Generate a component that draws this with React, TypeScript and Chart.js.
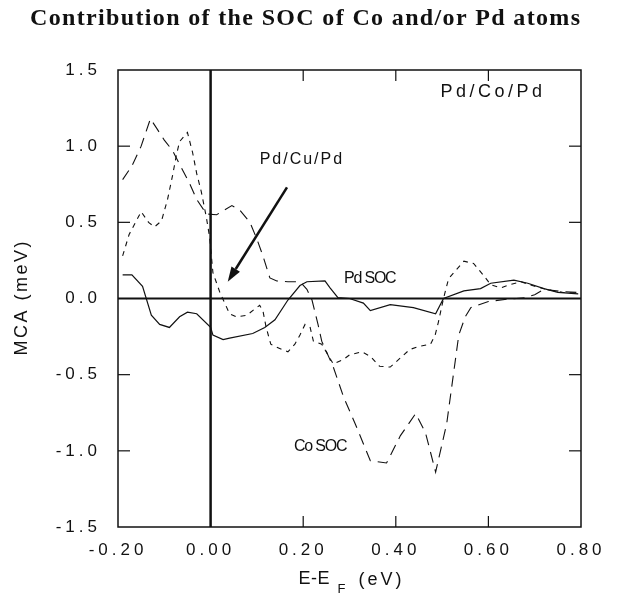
import React, { useEffect, useRef } from "react";
import { Chart, registerables } from "chart.js";

Chart.register(...registerables);

// ---------- data ----------
const chartTitle = "Contribution of the SOC of Co and/or Pd atoms";
const xAxisTitleMain = "E-E";
const xAxisTitleSub = "F";
const xAxisTitleUnit = "(eV)";
const yAxisTitle = "MCA (meV)";
const xMin = -0.2;
const xMax = 0.8;
const xStep = 0.2;
const yMin = -1.5;
const yMax = 1.5;
const yStep = 0.5;

// solid curve
const solidX = [-0.19, -0.17, -0.147, -0.128, -0.11, -0.089, -0.067, -0.05, -0.03, 0.0, 0.005, 0.027, 0.041, 0.091, 0.117, 0.139, 0.167, 0.193, 0.208, 0.247, 0.258, 0.275, 0.3, 0.33, 0.345, 0.388, 0.438, 0.486, 0.503, 0.547, 0.583, 0.605, 0.655, 0.685, 0.72, 0.75, 0.794];
const solidY = [0.155, 0.155, 0.08, -0.11, -0.17, -0.19, -0.12, -0.09, -0.1, -0.19, -0.24, -0.27, -0.26, -0.23, -0.19, -0.14, -0.01, 0.085, 0.11, 0.115, 0.07, 0.006, 0.0, -0.03, -0.08, -0.04, -0.06, -0.1, 0.0, 0.05, 0.065, 0.1, 0.12, 0.1, 0.065, 0.04, 0.03];

// long-dashed curve (Co SOC)
const longX = [-0.19, -0.17, -0.15, -0.13, -0.117, -0.1, -0.082, -0.06, -0.046, -0.03, -0.009, 0.013, 0.046, 0.063, 0.085, 0.1, 0.113, 0.128, 0.143, 0.167, 0.193, 0.208, 0.219, 0.232, 0.24, 0.265, 0.287, 0.312, 0.345, 0.38, 0.41, 0.443, 0.464, 0.486, 0.51, 0.536, 0.55, 0.562, 0.6, 0.64, 0.68, 0.7, 0.72, 0.76, 0.79];
const longY = [0.78, 0.87, 1.0, 1.18, 1.12, 1.04, 0.97, 0.84, 0.76, 0.65, 0.555, 0.55, 0.61, 0.58, 0.5, 0.39, 0.28, 0.135, 0.115, 0.11, 0.11, 0.06, -0.01, -0.17, -0.28, -0.45, -0.645, -0.82, -1.065, -1.08, -0.9, -0.755, -0.88, -1.14, -0.82, -0.24, -0.12, -0.06, -0.02, -0.005, 0.005, 0.025, 0.06, 0.045, 0.04];

// short-dashed curve
const shortX = [-0.19, -0.176, -0.15, -0.134, -0.121, -0.106, -0.093, -0.082, -0.074, -0.067, -0.05, -0.039, -0.03, -0.02, -0.009, -0.002, 0.005, 0.02, 0.041, 0.056, 0.078, 0.095, 0.106, 0.113, 0.12, 0.13, 0.143, 0.167, 0.182, 0.193, 0.204, 0.215, 0.222, 0.24, 0.265, 0.287, 0.3, 0.327, 0.345, 0.365, 0.388, 0.41, 0.43, 0.45, 0.475, 0.485, 0.492, 0.503, 0.514, 0.547, 0.568, 0.59, 0.605, 0.627, 0.645, 0.67, 0.7, 0.725, 0.76, 0.79];
const shortY = [0.28, 0.42, 0.57, 0.5, 0.47, 0.51, 0.65, 0.81, 0.94, 1.03, 1.09, 0.96, 0.82, 0.7, 0.53, 0.4, 0.17, 0.04, -0.1, -0.12, -0.11, -0.07, -0.045, -0.08, -0.19, -0.3, -0.32, -0.35, -0.3, -0.24, -0.17, -0.19, -0.28, -0.3, -0.43, -0.4, -0.37, -0.35, -0.38, -0.445, -0.45, -0.39, -0.335, -0.315, -0.3, -0.24, -0.155, 0.0, 0.13, 0.245, 0.23, 0.15, 0.09, 0.07, 0.09, 0.11, 0.08, 0.06, 0.04, 0.035];

const labelPdCoPd = "Pd/Co/Pd";
const labelPdCuPd = "Pd/Cu/Pd";
const labelPdSOC = "Pd SOC";
const labelCoSOC = "Co SOC";

const zip = (xs: number[], ys: number[]) => xs.map((x, i) => ({ x, y: ys[i] }));

const INK = "#111";
const SANS = '"Liberation Sans", Arial, sans-serif';
const SERIF = '"Liberation Serif", "Times New Roman", serif';

function drawText(ctx: CanvasRenderingContext2D, text: string, x: number, y: number, font: string, ls: number, align: CanvasTextAlign = "center", baseline: CanvasTextBaseline = "middle") {
  ctx.save();
  ctx.font = font;
  (ctx as any).letterSpacing = ls + "px";
  ctx.textAlign = "left";
  ctx.textBaseline = baseline;
  ctx.fillStyle = INK;
  const w = ctx.measureText(text).width - ls;
  let sx = x;
  if (align === "center") sx = x - w / 2;
  else if (align === "right") sx = x - w;
  ctx.fillText(text, sx, y);
  ctx.restore();
}

const framePlugin = {
  id: "frame",
  beforeDraw(chart: any) {
    chart.ctx.letterSpacing = "4px";
  },
  beforeDatasetsDraw(chart: any) {
    const { ctx, chartArea: a, scales } = chart;
    const xs = scales.x;
    const ys = scales.y;
    ctx.save();
    ctx.letterSpacing = "0px";
    ctx.strokeStyle = INK;
    const line = (x1: number, y1: number, x2: number, y2: number) => {
      ctx.beginPath();
      ctx.moveTo(x1, y1);
      ctx.lineTo(x2, y2);
      ctx.stroke();
    };
    ctx.lineWidth = 1.5;
    ctx.strokeRect(a.left, a.top, a.right - a.left, a.bottom - a.top);
    const x0 = xs.getPixelForValue(0);
    const y0 = ys.getPixelForValue(0);
    ctx.lineWidth = 2.5;
    line(x0, a.top, x0, a.bottom);
    ctx.lineWidth = 2;
    line(a.left, y0, a.right, y0);
    ctx.lineWidth = 1.2;
    xs.ticks.forEach((t: any) => {
      const v = t.value;
      if (Math.abs(v) < 1e-9 || v <= xMin + 1e-9 || v >= xMax - 1e-9) return;
      const px = xs.getPixelForValue(v);
      line(px, a.bottom, px, a.bottom - 11);
      line(px, a.top, px, a.top + 11);
    });
    ys.ticks.forEach((t: any) => {
      const v = t.value;
      if (Math.abs(v) < 1e-9 || v <= yMin + 1e-9 || v >= yMax - 1e-9) return;
      const py = ys.getPixelForValue(v);
      line(a.left, py, a.left + 12, py);
      line(a.right, py, a.right - 12, py);
    });
    ctx.restore();
  },
  afterDraw(chart: any) {
    const { ctx, chartArea: a, scales } = chart;
    const xs = scales.x;
    const ys = scales.y;
    ctx.save();
    ctx.letterSpacing = "0px";

    // chart title with spacing fitted to the reference width
    const titleFont = `bold 24px ${SERIF}`;
    ctx.font = titleFont;
    const baseW = ctx.measureText(chartTitle).width;
    const titleLs = Math.max(0, (550 - baseW) / (chartTitle.length - 1));
    drawText(ctx, chartTitle, 305, 25, titleFont, titleLs, "center", "alphabetic");

    // y axis title
    ctx.save();
    ctx.translate(22, (a.top + a.bottom) / 2);
    ctx.rotate(-Math.PI / 2);
    drawText(ctx, yAxisTitle, 0, 0, `18px ${SANS}`, 2.5, "center", "middle");
    ctx.restore();

    // x axis title with subscript
    const cx = (a.left + a.right) / 2;
    const by = 584;
    drawText(ctx, xAxisTitleMain, cx - 51, by, `18px ${SANS}`, 0.5, "left", "alphabetic");
    drawText(ctx, xAxisTitleSub, cx - 12, by + 9, `13px ${SANS}`, 0, "left", "alphabetic");
    drawText(ctx, xAxisTitleUnit, cx + 9, by + 1, `18px ${SANS}`, 3, "left", "alphabetic");

    // annotations
    drawText(ctx, labelPdCoPd, xs.getPixelForValue(0.606), ys.getPixelForValue(1.356), `18px ${SANS}`, 3.5);
    drawText(ctx, labelPdCuPd, xs.getPixelForValue(0.195), ys.getPixelForValue(0.91), `16px ${SANS}`, 2);
    drawText(ctx, labelPdSOC, xs.getPixelForValue(0.345), ys.getPixelForValue(0.13), `16px ${SANS}`, -1.2);
    drawText(ctx, labelCoSOC, xs.getPixelForValue(0.238), ys.getPixelForValue(-0.97), `16px ${SANS}`, -1.2);

    // arrow
    const sx = xs.getPixelForValue(0.165);
    const sy = ys.getPixelForValue(0.73);
    const tx = xs.getPixelForValue(0.037);
    const ty = ys.getPixelForValue(0.11);
    const ang = Math.atan2(ty - sy, tx - sx);
    const headLen = 15;
    const headW = 5;
    const bx = tx - headLen * Math.cos(ang);
    const byy = ty - headLen * Math.sin(ang);
    ctx.strokeStyle = INK;
    ctx.fillStyle = INK;
    ctx.lineWidth = 2.5;
    ctx.beginPath();
    ctx.moveTo(sx, sy);
    ctx.lineTo(bx, byy);
    ctx.stroke();
    ctx.beginPath();
    ctx.moveTo(tx, ty);
    ctx.lineTo(bx + headW * Math.sin(ang), byy - headW * Math.cos(ang));
    ctx.lineTo(bx - headW * Math.sin(ang), byy + headW * Math.cos(ang));
    ctx.closePath();
    ctx.fill();

    ctx.restore();
    ctx.letterSpacing = "0px";
  },
};

export default function App() {
  const ref = useRef<HTMLCanvasElement | null>(null);
  useEffect(() => {
    if (!ref.current) return;
    const chart = new Chart(ref.current, {
      type: "line",
      data: {
        datasets: [
          {
            label: "solid",
            data: zip(solidX, solidY),
            borderColor: INK,
            borderWidth: 1.2,
            pointRadius: 0,
            tension: 0,
            fill: false,
          },
          {
            label: "Co SOC",
            data: zip(longX, longY),
            borderColor: INK,
            borderWidth: 1.1,
            borderDash: [11, 7],
            pointRadius: 0,
            tension: 0,
            fill: false,
          },
          {
            label: "short",
            data: zip(shortX, shortY),
            borderColor: INK,
            borderWidth: 1.1,
            borderDash: [5, 5],
            pointRadius: 0,
            tension: 0,
            fill: false,
          },
        ],
      },
      options: {
        responsive: false,
        animation: false,
        devicePixelRatio: 1,
        layout: { padding: { top: 70, right: 47, bottom: 36, left: 0 } },
        plugins: {
          legend: { display: false },
          title: { display: false },
          tooltip: { enabled: false },
        },
        scales: {
          x: {
            type: "linear",
            min: xMin,
            max: xMax,
            grid: { display: false, drawTicks: false },
            border: { display: false },
            afterFit: (s: any) => {
              s.height = 40;
            },
            ticks: {
              stepSize: xStep,
              padding: 13,
              color: INK,
              font: { family: SANS, size: 17 },
              callback: (v: any) => Number(v).toFixed(2),
              maxRotation: 0,
              autoSkip: false,
            },
          },
          y: {
            type: "linear",
            min: yMin,
            max: yMax,
            grid: { display: false, drawTicks: false },
            border: { display: false },
            afterFit: (s: any) => {
              s.width = 118;
            },
            ticks: {
              stepSize: yStep,
              padding: 17,
              color: INK,
              font: { family: SANS, size: 17 },
              callback: (v: any) => Number(v).toFixed(1),
              autoSkip: false,
            },
          },
        },
      },
      plugins: [framePlugin],
    });
    return () => chart.destroy();
  }, []);
  return (
    <div style={{ position: "absolute", left: 0, top: 0, width: 628, height: 603, background: "#fff" }}>
      <canvas ref={ref} width={628} height={603} style={{ width: 628, height: 603, display: "block" }} />
    </div>
  );
}
